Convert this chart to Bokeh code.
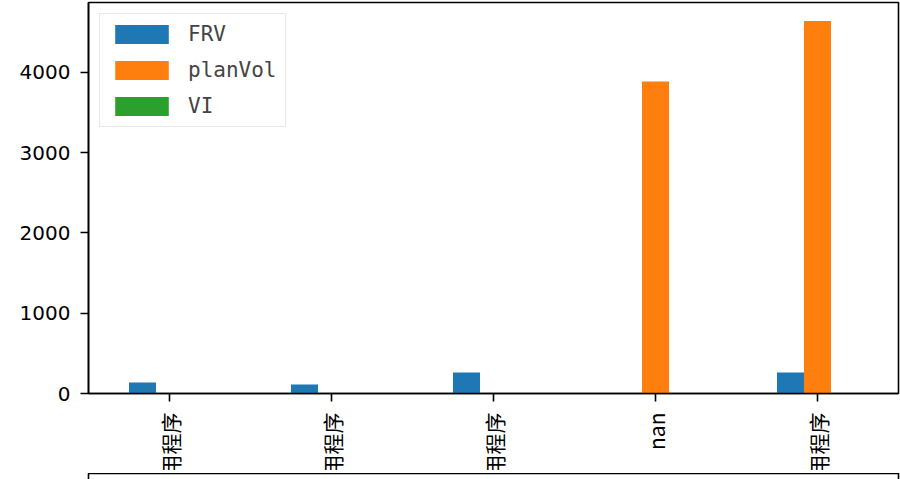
import numpy as np
from bokeh.plotting import figure
from bokeh.layouts import column
from bokeh.models import (ColumnDataSource, Range1d, FixedTicker, Legend, LegendItem)
from bokeh.embed import file_html
from bokeh.resources import INLINE
from bokeh.core.properties import value

# ---- data ----
categories = ["数据应用程序", "报表应用程序", "分析应用程序", "nan", "管理应用程序"]
FRV = [137, 112, 261, 0, 261]
planVol = [0, 0, 0, 3885, 4637]
VI = [0, 0, 0, 0, 0]
y_ticks = [0, 1000, 2000, 3000, 4000]
series_names = ["FRV", "planVol", "VI"]
series_values = [FRV, planVol, VI]
colors = ["#1f77b4", "#ff7f0e", "#2ca02c"]

# ---- layout ----
W = 900
FL, FR = 88, 898
MAIN_H = 403          # frame 2..393, ticks below
LBL_H = 67            # label strip 403..470
BOX_H = 9             # top of the cut-off lower axes, 470..479

n = len(categories)
ymax = max(max(v) for v in series_values) * 1.05
xpos = np.arange(n)
bw = 0.5 / len(series_names)
xr = Range1d(-0.5, n - 0.5)

p = figure(width=W, height=MAIN_H, output_backend="svg", toolbar_location=None,
           x_range=xr, y_range=Range1d(0, ymax),
           min_border_left=FL, min_border_right=W - FR,
           min_border_top=2, min_border_bottom=10)
p.outline_line_color = "black"
p.outline_line_width = 1.6
p.xgrid.visible = False
p.ygrid.visible = False

items = []
for i, (name, vals, c) in enumerate(zip(series_names, series_values, colors)):
    src = ColumnDataSource(dict(x=xpos + (i - 1) * bw, top=vals))
    r = p.vbar(x="x", top="top", bottom=0, width=bw, source=src,
               fill_color=c, line_color=None)
    items.append(LegendItem(label=name, renderers=[r]))

legend = Legend(items=items, location="top_left", margin=11,
                glyph_width=67, glyph_height=24, label_standoff=13,
                padding=8, spacing=12, label_height=19,
                label_text_font="DejaVu Sans Mono", label_text_font_size="21px",
                border_line_color="#d0d0d0", border_line_width=1.8,
                background_fill_alpha=0.8)
p.add_layout(legend)

p.yaxis.ticker = FixedTicker(ticks=y_ticks)
p.yaxis.major_label_text_font = "DejaVu Sans"
p.yaxis.major_label_text_font_size = "20px"
p.yaxis.major_label_text_color = "black"
p.yaxis.major_tick_out = 8
p.yaxis.major_tick_in = 0
p.yaxis.major_tick_line_width = 1.6
p.yaxis.minor_tick_line_color = None
p.yaxis.axis_line_width = 1.6
p.yaxis.major_label_standoff = 10

p.xaxis.ticker = FixedTicker(ticks=list(xpos))
p.xaxis.major_label_overrides = {int(k): "" for k in xpos}
p.xaxis.major_label_text_font_size = "0px"
p.xaxis.major_label_standoff = 0
p.xaxis.major_tick_out = 8
p.xaxis.major_tick_in = 0
p.xaxis.major_tick_line_width = 1.6
p.xaxis.minor_tick_line_color = None
p.xaxis.axis_line_width = 1.6

# rotated category labels, clipped by the lower axes like the reference
p_lbl = figure(width=W, height=LBL_H, output_backend="svg", toolbar_location=None,
               x_range=xr, y_range=Range1d(0, LBL_H),
               x_axis_location=None, y_axis_location=None,
               min_border_left=FL, min_border_right=W - FR,
               min_border_top=0, min_border_bottom=0)
p_lbl.outline_line_color = None
p_lbl.xgrid.visible = False
p_lbl.ygrid.visible = False
p_lbl.text(x=xpos, y=[LBL_H - 9] * n, text=categories, angle=np.pi / 2,
           text_align="right", text_baseline="middle",
           text_font=value("Noto Sans CJK SC"), text_font_size="21px",
           text_color="black")

# top of the second (cut-off) axes
p_box = figure(width=W, height=BOX_H, output_backend="svg", toolbar_location=None,
               x_range=xr, y_range=Range1d(0, 1),
               x_axis_location=None, y_axis_location=None,
               min_border_left=FL, min_border_right=W - FR,
               min_border_top=0, min_border_bottom=0)
p_box.outline_line_color = "black"
p_box.outline_line_width = 1.6
p_box.xgrid.visible = False
p_box.ygrid.visible = False

layout = column(p, p_lbl, p_box, spacing=0)

open("out.html", "w").write(file_html(layout, INLINE))
